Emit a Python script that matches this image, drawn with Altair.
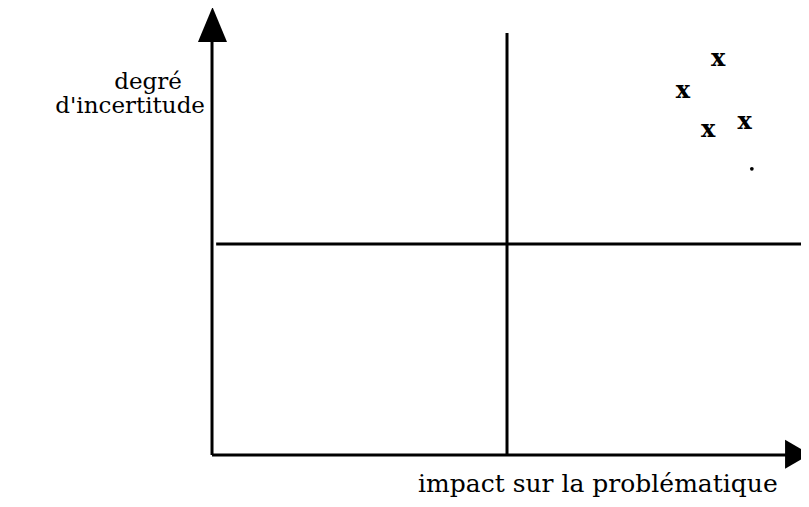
import altair as alt
import pandas as pd

# ---- data (data units: origin = axes crossing) ----
marker_x = [8.58, 7.98, 8.41, 9.03]
marker_y = [9.38, 8.63, 7.70, 7.89]
dot_x = [9.15]
dot_y = [6.78]
mid_x = 5.0          # vertical quadrant divider
mid_y = 5.0          # horizontal quadrant divider
axis_max = 10.0
x_label = "impact sur la problématique"
y_label_lines = ["degré", "d'incertitude"]

W, H = 793, 491
xdom = [-3.458, 9.983]
ydom = [-1.043, 10.592]
xs = alt.Scale(domain=xdom, nice=False, zero=False)
ys = alt.Scale(domain=ydom, nice=False, zero=False)
FONT = "DejaVu Serif"

def X(f="x"):
    return alt.X(f"{f}:Q", scale=xs, axis=None)

def Y(f="y"):
    return alt.Y(f"{f}:Q", scale=ys, axis=None)

# segments
segs = pd.DataFrame({
    "x":  [0.0, 0.0, mid_x, 0.07],
    "x2": [9.88, 0.0, mid_x, axis_max],
    "y":  [0.0, 0.0, 0.0, mid_y],
    "y2": [0.0, 10.2, axis_max, mid_y],
})
lines = alt.Chart(segs).mark_rule(color="black", strokeWidth=3).encode(
    x=X(), x2="x2:Q", y=Y(), y2="y2:Q")

up = alt.Chart(pd.DataFrame({"x": [0.008], "y": [10.20]})).mark_point(
    shape="M0,-1L0.83,1L-0.83,1Z", size=1225, filled=True, fill="black",
    opacity=1, strokeWidth=0).encode(x=X(), y=Y())
right = alt.Chart(pd.DataFrame({"x": [9.89], "y": [0.02]})).mark_point(
    shape="M1,0L-0.72,-1L-0.72,1Z", size=841, filled=True, fill="black",
    opacity=1, strokeWidth=0).encode(x=X(), y=Y())

marks = alt.Chart(pd.DataFrame({"x": marker_x, "y": marker_y, "t": ["x"] * 4})).mark_text(
    font=FONT, fontSize=24, fontWeight="bold", color="black",
    baseline="middle", align="center").encode(x=X(), y=Y(), text="t:N")
dot = alt.Chart(pd.DataFrame({"x": dot_x, "y": dot_y})).mark_circle(
    size=14, color="black", opacity=1).encode(x=X(), y=Y())

xl = alt.Chart(pd.DataFrame({"x": [6.54], "y": [-0.877], "t": [x_label]})).mark_text(
    font=FONT, fontSize=25, color="black", baseline="alphabetic", align="center").encode(
    x=X(), y=Y(), text="t:N")
yl1 = alt.Chart(pd.DataFrame({"x": [-1.085], "y": [8.67], "t": [y_label_lines[0]]})).mark_text(
    font=FONT, fontSize=23, color="black", baseline="alphabetic", align="center").encode(
    x=X(), y=Y(), text="t:N")
yl2 = alt.Chart(pd.DataFrame({"x": [-0.119], "y": [8.10], "t": [y_label_lines[1]]})).mark_text(
    font=FONT, fontSize=23, color="black", baseline="alphabetic", align="right").encode(
    x=X(), y=Y(), text="t:N")

chart = alt.layer(lines, up, right, marks, dot, xl, yl1, yl2).properties(
    width=W, height=H, padding=0, autosize="none"
).configure_view(strokeWidth=0)

chart.save("out.html", embed_options={"renderer": "svg", "actions": False})
